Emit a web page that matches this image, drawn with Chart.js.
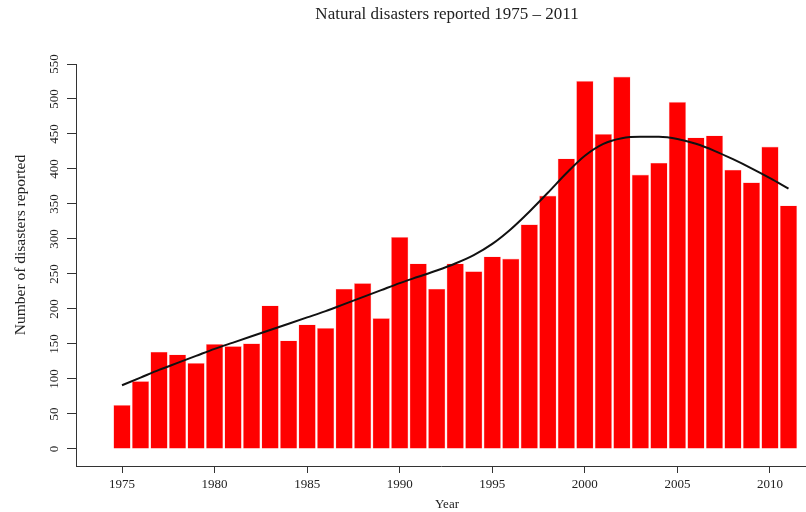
<!DOCTYPE html>
<html>
<head>
<meta charset="utf-8">
<script src="https://cdn.jsdelivr.net/npm/chart.js@4/dist/chart.umd.min.js"></script>
<style>
  html, body { margin: 0; padding: 0; background: #fff; }
  #wrap { width: 806px; height: 512px; }
</style>
</head>
<body>
<div id="wrap"><canvas id="chart" width="806" height="512"></canvas></div>
<script>
// Yearly counts of reported natural disasters
const years = [1975, 1976, 1977, 1978, 1979, 1980, 1981, 1982, 1983, 1984,
               1985, 1986, 1987, 1988, 1989, 1990, 1991, 1992, 1993, 1994,
               1995, 1996, 1997, 1998, 1999, 2000, 2001, 2002, 2003, 2004,
               2005, 2006, 2007, 2008, 2009, 2010, 2011];
const disasters = [63, 97, 139, 135, 123, 150, 147, 151, 205, 155,
                   178, 173, 229, 237, 187, 303, 265, 229, 265, 254,
                   275, 272, 321, 362, 415, 526, 450, 532, 392, 409,
                   496, 445, 448, 399, 381, 432, 348];
// Smoothed trend through the yearly counts
const trend = [91, 102, 113, 123, 133, 143, 152, 161, 170, 179,
               188, 197, 207, 217, 227, 237, 246, 255, 265, 277,
               293, 314, 339, 366, 394, 419, 436, 444, 446, 446,
               443, 436, 426, 414, 401, 387, 372];
const xTickLabels = [1975, 1980, 1985, 1990, 1995, 2000, 2005, 2010];
const yTickLabels = [0, 50, 100, 150, 200, 250, 300, 350, 400, 450, 500, 550];

const titleText = 'Natural disasters reported 1975 \u2013 2011';
const xTitle = 'Year';
const yTitle = 'Number of disasters reported';

const SERIF = '"Liberation Serif", "DejaVu Serif", serif';
const INK = '#222';

// Draws the titles and tick labels in the base-graphics style
const labelsPlugin = {
  id: 'labels',
  afterDraw(chart) {
    const ctx = chart.ctx;
    const xs = chart.scales.x, ys = chart.scales.y;
    ctx.save();
    ctx.fillStyle = INK;
    ctx.textAlign = 'center';
    ctx.textBaseline = 'middle';

    ctx.font = '17px ' + SERIF;
    ctx.fillText(titleText, 447, 15);

    ctx.font = '13px ' + SERIF;
    xTickLabels.forEach(v => {
      ctx.fillText(String(v), xs.getPixelForValue(v), 485);
    });
    yTickLabels.forEach(v => {
      ctx.save();
      ctx.translate(55, ys.getPixelForValue(v));
      ctx.rotate(-Math.PI / 2);
      ctx.fillText(String(v), 0, 0);
      ctx.restore();
    });

    ctx.font = '13px ' + SERIF;
    ctx.fillText(xTitle, 447, 505);

    ctx.save();
    ctx.font = '15.5px ' + SERIF;
    ctx.translate(21, 245);
    ctx.rotate(-Math.PI / 2);
    ctx.fillText(yTitle, 0, 0);
    ctx.restore();

    ctx.restore();
  }
};

new Chart(document.getElementById('chart'), {
  type: 'bar',
  data: {
    datasets: [
      {
        type: 'line',
        data: years.map((yr, i) => ({ x: yr, y: trend[i] })),
        borderColor: '#111',
        borderWidth: 2,
        pointRadius: 0,
        fill: false,
        cubicInterpolationMode: 'monotone',
        order: 0
      },
      {
        type: 'bar',
        data: years.map((yr, i) => ({ x: yr, y: disasters[i] })),
        backgroundColor: '#ff0000',
        borderColor: '#ffc4c4',
        borderWidth: 0.6,
        barPercentage: 0.94,
        categoryPercentage: 1.0,
        order: 1
      }
    ]
  },
  options: {
    responsive: false,
    animation: false,
    devicePixelRatio: 1,
    layout: { padding: { top: 64, right: 0, bottom: 0, left: 0 } },
    plugins: {
      legend: { display: false },
      tooltip: { enabled: false },
      title: { display: false }
    },
    scales: {
      x: {
        type: 'linear',
        offset: false,
        min: 1972.515,
        max: 2011.945,
        afterBuildTicks: s => { s.ticks = xTickLabels.map(v => ({ value: v })); },
        afterFit: s => { s.height = 46; },
        ticks: { display: false },
        grid: { offset: false, drawOnChartArea: false, drawTicks: true, tickLength: 7, color: '#333', lineWidth: 1 },
        border: { display: true, color: '#333', width: 1 }
      },
      y: {
        min: -24.29,
        max: 550,
        afterBuildTicks: s => { s.ticks = yTickLabels.map(v => ({ value: v })); },
        afterFit: s => { s.width = 76; },
        ticks: { display: false },
        grid: { drawOnChartArea: false, drawTicks: true, tickLength: 9, color: '#333', lineWidth: 1 },
        border: { display: true, color: '#333', width: 1 }
      }
    }
  },
  plugins: [labelsPlugin]
});
</script>
</body>
</html>
